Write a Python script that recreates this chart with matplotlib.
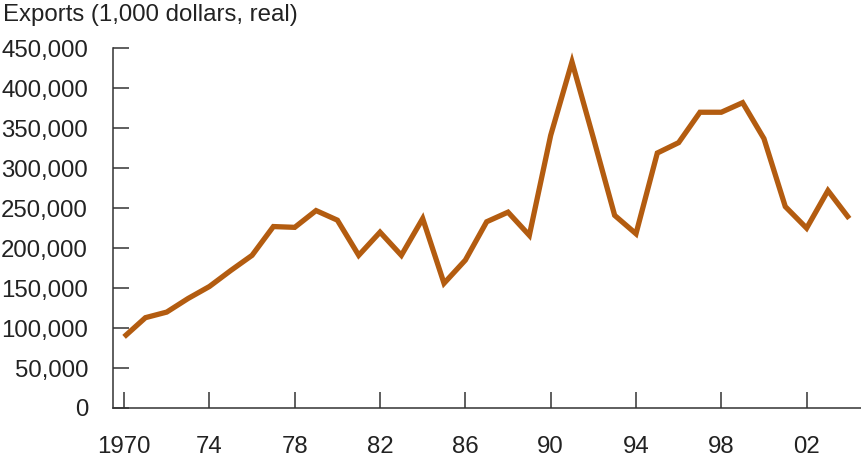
import matplotlib
matplotlib.use("Agg")
import matplotlib.pyplot as plt

# Exports, 1,000 dollars (real)
years = list(range(1970, 2005))
exports = [
    89000, 113000, 120000, 137000, 152000, 172000, 191000, 227000, 226000, 247000,
    235000, 191000, 220000, 191000, 237000, 156000, 185000, 233000, 245000, 216000,
    341000, 433000, 338000, 241000, 218000, 319000, 332000, 370000, 370000, 382000,
    337000, 252000, 225000, 272000, 237000,
]
x_ticks = [1970, 1974, 1978, 1982, 1986, 1990, 1994, 1998, 2002]
x_labels = ["1970", "74", "78", "82", "86", "90", "94", "98", "02"]
y_ticks = list(range(0, 450001, 50000))

LINE = "#b35c10"
INK = "#222222"
AXIS = "#333333"

plt.rcParams["font.family"] = ["Liberation Sans", "DejaVu Sans"]

fig = plt.figure(figsize=(8.61, 4.58), dpi=100)
ax = fig.add_axes([113 / 861, 50 / 458, 748 / 861, 359.7 / 458])

ax.plot(years, exports, color=LINE, linewidth=3.8, solid_joinstyle="miter",
        solid_capstyle="butt", clip_on=False)

ax.set_xlim(1969.48, 2004.55)
ax.set_ylim(0, 450000)

ax.set_xticks(x_ticks)
ax.set_xticklabels(x_labels)
ax.set_yticks(y_ticks)
ax.set_yticklabels([f"{v:,}" for v in y_ticks])

for side in ("top", "right"):
    ax.spines[side].set_visible(False)
for side in ("left", "bottom"):
    ax.spines[side].set_color(AXIS)
    ax.spines[side].set_linewidth(1.1)

ax.tick_params(axis="both", direction="in", length=11.5, width=1.1, color=AXIS,
               labelsize=17.3, labelcolor=INK)
ax.tick_params(axis="y", pad=18)
ax.tick_params(axis="x", pad=20)

fig.text(3 / 861, (458 - 21) / 458, "Exports (1,000 dollars, real)",
         fontsize=17.3, color=INK, va="baseline", ha="left")

fig.savefig("out.png", dpi=100)
